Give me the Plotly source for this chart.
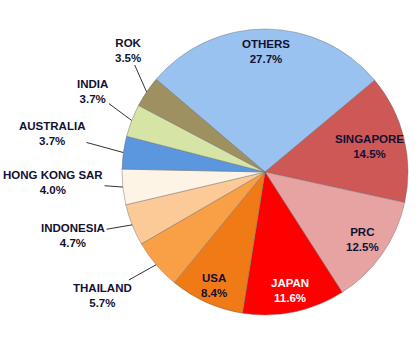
import math
import plotly.graph_objects as go

# ---- data ----
categories = ["OTHERS", "SINGAPORE", "PRC", "JAPAN", "USA", "THAILAND",
              "INDONESIA", "HONG KONG SAR", "AUSTRALIA", "INDIA", "ROK"]
shares = [27.7, 14.5, 12.5, 11.6, 8.4, 5.7, 4.7, 4.0, 3.7, 3.7, 3.5]
colors = ["#99C2F0", "#CD5856", "#E6A3A2", "#FF0000", "#F07A16", "#F9A047",
          "#FCCA97", "#FEF4E6", "#5A97DE", "#D6E4A6", "#9E9060"]

# ---- layout / style ----
W, H = 416, 344
CX, CY, R = 265.0, 172.0, 143.0
ROTATION = -49.6
FONT = "Arial"
FONT_SIZE = 11.5
TEXT_COLOR = "#111133"

# inside labels: radius fraction ; outside labels: label centre in pixels
inside_r = {"OTHERS": 0.84, "SINGAPORE": 0.75, "PRC": 0.83, "JAPAN": 0.85, "USA": 0.87}
outside_pos = {"THAILAND": (102, 295), "INDONESIA": (73, 235),
               "HONG KONG SAR": (53, 182), "AUSTRALIA": (52, 133),
               "INDIA": (92, 91), "ROK": (128, 50)}

fig = go.Figure(go.Pie(
    labels=categories, values=shares, sort=False, direction="clockwise",
    rotation=ROTATION, textinfo="none", hoverinfo="label+percent",
    marker=dict(colors=colors, line=dict(color="rgba(110,110,110,0.45)", width=1)),
    domain=dict(x=[(CX - R) / W, (CX + R) / W], y=[1 - (CY + R) / H, 1 - (CY - R) / H]),
    showlegend=False,
))

total = sum(shares)
cum = 0.0
annotations = []
for name, v in zip(categories, shares):
    mid = ROTATION + (cum + v / 2) / total * 360.0
    cum += v
    th = math.radians(mid)
    text = f"{name}<br>{v:.1f}%"
    if name in inside_r:
        rr = inside_r[name] * R
        px = CX + rr * math.sin(th)
        py = CY - rr * math.cos(th)
        annotations.append(dict(
            x=px / W, y=1 - py / H, xref="paper", yref="paper", text=text,
            showarrow=False, xanchor="center", yanchor="middle",
            font=dict(family=FONT, size=FONT_SIZE, weight="bold",
                      color="white" if name == "JAPAN" else TEXT_COLOR)))
    else:
        axp = CX + R * math.sin(th)
        ayp = CY - R * math.cos(th)
        lx, ly = outside_pos[name]
        annotations.append(dict(
            x=axp / W, y=1 - ayp / H, xref="paper", yref="paper", text=text,
            showarrow=True, arrowhead=0, arrowwidth=1, arrowcolor="#333333",
            ax=lx - axp, ay=ly - ayp, axref="pixel", ayref="pixel",
            font=dict(family=FONT, size=FONT_SIZE, weight="bold", color=TEXT_COLOR)))

fig.update_layout(
    width=W, height=H, margin=dict(l=0, r=0, t=0, b=0),
    paper_bgcolor="white", plot_bgcolor="white",
    annotations=annotations,
)
fig.write_html("out.html")
